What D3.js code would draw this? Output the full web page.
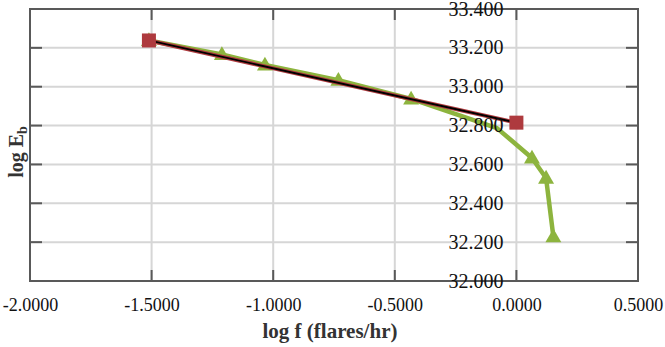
<!DOCTYPE html>
<html>
<head>
<meta charset="utf-8">
<script src="https://cdn.jsdelivr.net/npm/d3@7"></script>
<style>
  html, body { margin: 0; padding: 0; background: #fff; }
  svg { display: block; }
</style>
</head>
<body>
<svg id="chart" width="665" height="347"></svg>
<script>
// ---- data ----
const xTicks = [-2.0, -1.5, -1.0, -0.5, 0.0, 0.5];
const yTicks = [32.0, 32.2, 32.4, 32.6, 32.8, 33.0, 33.2, 33.4];

const greenX = [-1.511, -1.211, -1.034, -0.732, -0.433, -0.080, 0.064, 0.122, 0.152];
const greenY = [33.238, 33.166, 33.112, 33.034, 32.937, 32.787, 32.633, 32.530, 32.228];
const greenNoMarker = [5];

const redX = [-1.511, 0.000];
const redY = [33.238, 32.815];

const xTitle = "log f (flares/hr)";

// ---- layout ----
const svg = d3.select("#chart");
const L = 30, R = 638, T = 9, B = 281;
const x = d3.scaleLinear().domain([-2, 0.5]).range([L, R]);
const y = d3.scaleLinear().domain([32.0, 33.4]).range([B, T]);

const frameCol = "#595959", gridCol = "#d6d6d6";
const green = "#8db43e", red = "#ae3a3e";

// gridlines
svg.append("g").selectAll("line").data(xTicks.filter(d => d > -2 && d < 0.5)).join("line")
  .attr("x1", d => x(d)).attr("x2", d => x(d)).attr("y1", T).attr("y2", B)
  .attr("stroke", gridCol).attr("stroke-width", 2);
svg.append("g").selectAll("line").data(yTicks.filter(d => d > 32 && d < 33.4)).join("line")
  .attr("x1", L).attr("x2", R).attr("y1", d => y(d)).attr("y2", d => y(d))
  .attr("stroke", gridCol).attr("stroke-width", 2);

// frame
svg.append("rect").attr("x", L).attr("y", T).attr("width", R - L).attr("height", B - T)
  .attr("fill", "none").attr("stroke", frameCol).attr("stroke-width", 2);

// mirror ticks on frame
const tk = 11;
const innerX = xTicks.filter(d => d > -2 && d < 0.5);
const innerY = yTicks.filter(d => d > 32 && d < 33.4);
const tg = svg.append("g").attr("stroke", frameCol).attr("stroke-width", 2);
innerX.forEach(d => {
  tg.append("line").attr("x1", x(d)).attr("x2", x(d)).attr("y1", T).attr("y2", T + tk);
  tg.append("line").attr("x1", x(d)).attr("x2", x(d)).attr("y1", B).attr("y2", B - tk);
});
innerY.forEach(d => {
  tg.append("line").attr("x1", L).attr("x2", L + tk + 1).attr("y1", y(d)).attr("y2", y(d));
  tg.append("line").attr("x1", R).attr("x2", R - tk - 1).attr("y1", y(d)).attr("y2", y(d));
});

// green series
const gPts = greenX.map((v, i) => [v, greenY[i]]);
svg.append("path").datum(gPts)
  .attr("d", d3.line().x(d => x(d[0])).y(d => y(d[1])))
  .attr("fill", "none").attr("stroke", green).attr("stroke-width", 4.5)
  .attr("stroke-linejoin", "round");
const tri = d3.symbol().type(d3.symbolTriangle).size(110);
svg.append("g").selectAll("path")
  .data(gPts.filter((d, i) => !greenNoMarker.includes(i))).join("path")
  .attr("d", tri)
  .attr("transform", d => `translate(${x(d[0])},${y(d[1]) + 1})`)
  .attr("fill", green);

// red series with black trend line
const rPts = redX.map((v, i) => [v, redY[i]]);
const rl = d3.line().x(d => x(d[0])).y(d => y(d[1]));
svg.append("path").datum(rPts).attr("d", rl)
  .attr("fill", "none").attr("stroke", red).attr("stroke-width", 4);
svg.append("path").datum(rPts).attr("d", rl)
  .attr("fill", "none").attr("stroke", "#000").attr("stroke-width", 1.8);
svg.append("g").selectAll("rect").data(rPts).join("rect")
  .attr("x", d => x(d[0]) - 7).attr("y", d => y(d[1]) - 7)
  .attr("width", 14).attr("height", 14).attr("fill", red);

// x axis labels
const xAxis = d3.axisBottom(x).tickValues(xTicks).tickSize(0).tickPadding(0)
  .tickFormat(d => d.toFixed(4));
const xg = svg.append("g").attr("transform", `translate(0,${B})`).call(xAxis);
xg.select(".domain").remove();
xg.selectAll("text").attr("y", 30).attr("dy", null)
  .attr("font-family", "'Liberation Serif', serif").attr("font-size", 18).attr("fill", "#111");

// y axis labels at x = 0
const yAxis = d3.axisLeft(y).tickValues(yTicks).tickSize(0).tickPadding(13)
  .tickFormat(d => d.toFixed(3));
const yg = svg.append("g").attr("transform", `translate(${x(0)},0)`).call(yAxis);
yg.select(".domain").remove();
yg.selectAll("text").attr("dy", null).attr("y", 6)
  .attr("font-family", "'Liberation Serif', serif").attr("font-size", 20).attr("fill", "#111");

// axis titles
svg.append("text").attr("x", 330).attr("y", 338).attr("text-anchor", "middle")
  .attr("font-family", "'Liberation Serif', serif").attr("font-weight", "bold")
  .attr("font-size", 21).attr("fill", "#333").text(xTitle);

const yt = svg.append("text").attr("transform", "translate(23,152) rotate(-90)")
  .attr("text-anchor", "middle")
  .attr("font-family", "'Liberation Serif', serif").attr("font-weight", "bold")
  .attr("font-size", 20).attr("fill", "#333");
yt.append("tspan").text("log E");
yt.append("tspan").attr("font-size", 14).attr("dy", 4).text("b");
</script>
</body>
</html>
